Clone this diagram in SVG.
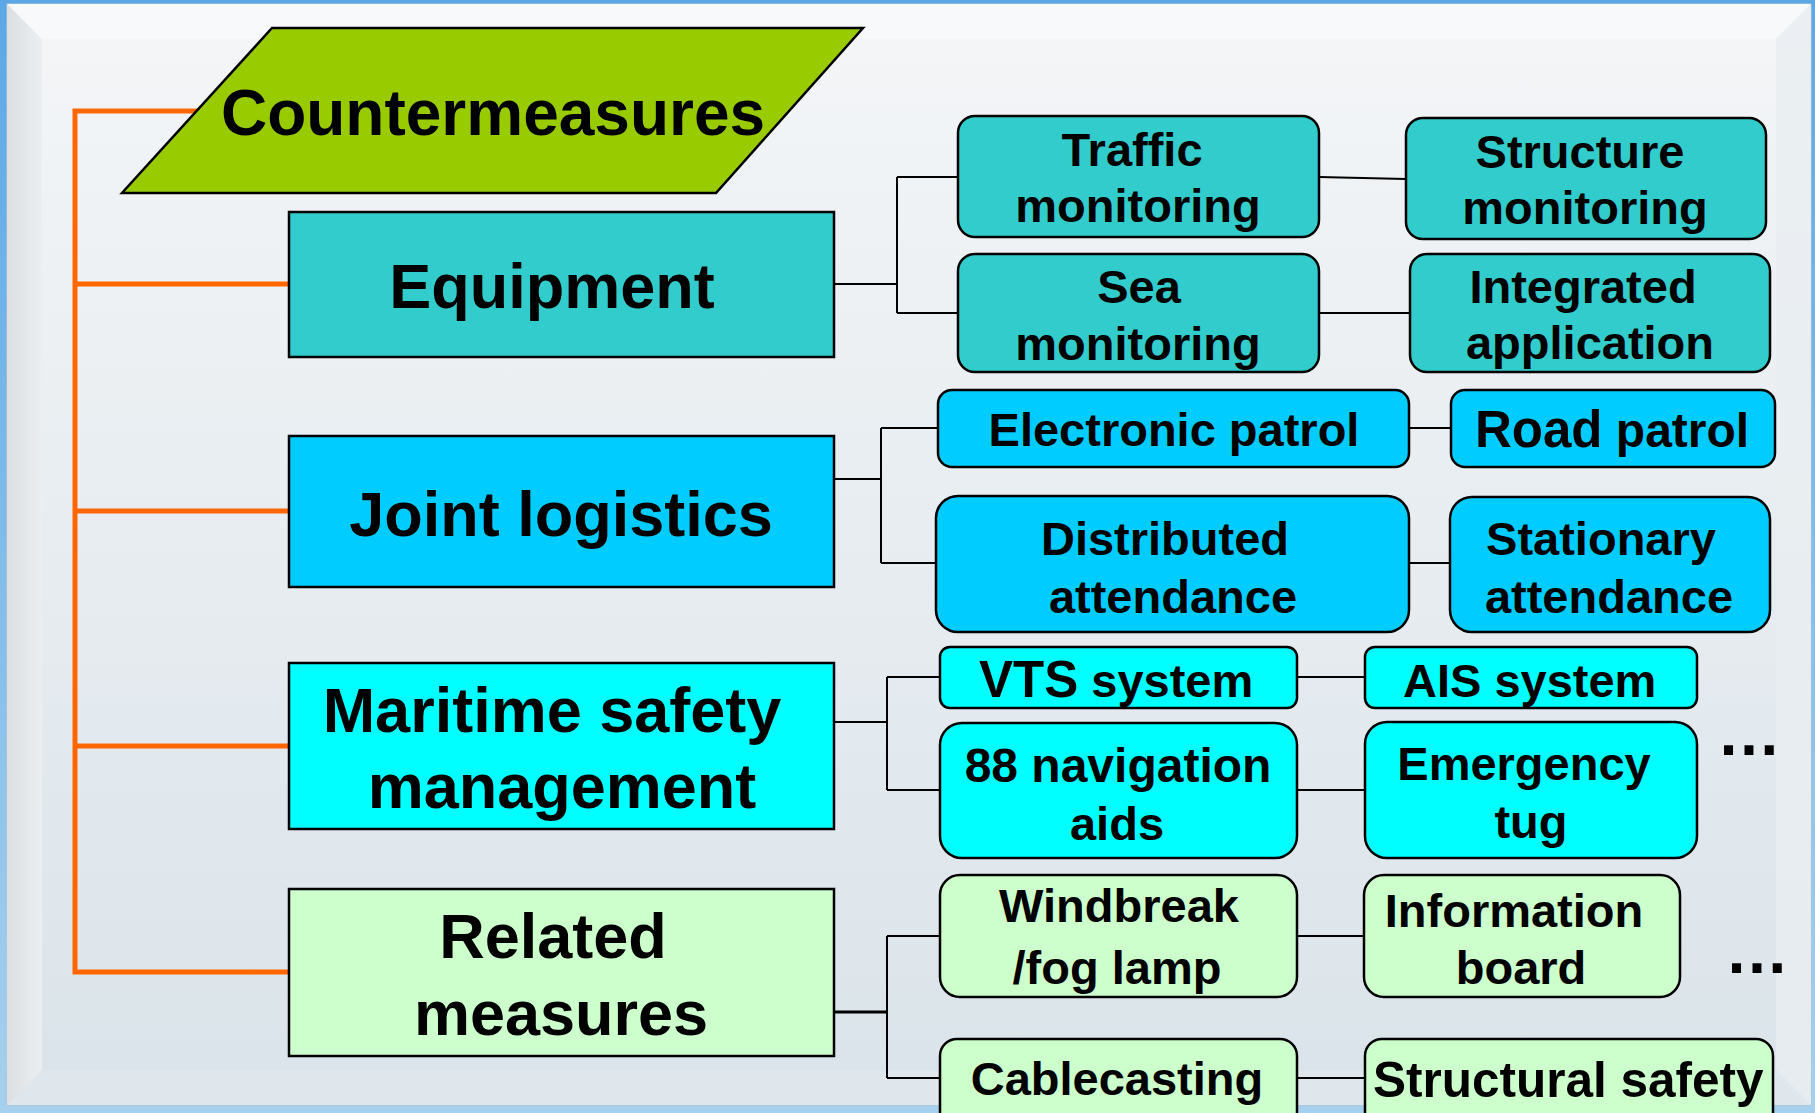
<svg xmlns="http://www.w3.org/2000/svg" width="1815" height="1113" viewBox="0 0 1815 1113">
<defs>
<linearGradient id="outer" x1="0" y1="0" x2="0" y2="1">
<stop offset="0" stop-color="#5ca8e6"/>
<stop offset="1" stop-color="#a6d0ee"/>
</linearGradient>
<linearGradient id="face" x1="0" y1="0" x2="0" y2="1">
<stop offset="0" stop-color="#f3f5f7"/>
<stop offset="1" stop-color="#dbe4ea"/>
</linearGradient>
<linearGradient id="leftbev" x1="0" y1="0" x2="1" y2="0">
<stop offset="0" stop-color="#dcdfe2"/>
<stop offset="1" stop-color="#eceff1"/>
</linearGradient>
<style>
.t{font-family:"Liberation Sans",Arial,sans-serif;font-weight:bold;fill:#000}
.big{font-size:63px;text-anchor:middle}
.sm{font-size:47px;text-anchor:middle}
.box{stroke:#000;stroke-width:2.5}
.rb{stroke:#000;stroke-width:2.5}
.ln{fill:none;stroke:#000;stroke-width:2}
.or{fill:none;stroke:#FF6600;stroke-width:5}
</style>
</defs>
<g id="background">
<rect x="0" y="0" width="1815" height="1113" fill="url(#outer)"/>
<rect x="7" y="4" width="1804" height="1101" fill="url(#face)" stroke="#b8c4cc" stroke-width="1"/>
<polygon points="7,4 1811,4 1776,39 42,39" fill="#f7f9fa"/>
<polygon points="7,4 42,39 42,1070 7,1105" fill="url(#leftbev)"/>
<polygon points="1811,4 1811,1105 1776,1070 1776,39" fill="#e8edf1" opacity="0.8"/>
<polygon points="7,1105 42,1070 1776,1070 1811,1105" fill="#e0e7ec"/>
<rect x="42" y="39" width="1734" height="1031" fill="url(#face)"/>
</g>
<g id="connectors">
<path class="or" d="M198,111 H75 V972 H289 M75,284 H289 M75,511 H289 M75,746 H289"/>
<path class="ln" d="M834,284 H897 M897,177 V313 M897,177 H958 M897,313 H958"/>
<path class="ln" d="M1319,177 L1406,179 M1319,313 H1410"/>
<path class="ln" d="M829,479 H881 M881,428 V563 M881,428 H938 M881,563 H936"/>
<path class="ln" d="M1409,428 H1451 M1409,563 H1450"/>
<path class="ln" d="M834,722 H887 M887,677 V790 M887,677 H940 M887,790 H940"/>
<path class="ln" d="M1297,677 H1365 M1297,790 H1365"/>
<path class="ln" d="M834,1012 H887" style="stroke-width:3"/>
<path class="ln" d="M887,936 V1078 M887,936 H940 M887,1078 H940"/>
<path class="ln" d="M1297,936 H1364 M1297,1078 H1365"/>
</g>
<g id="countermeasures">
<polygon class="box" points="272,28 863,28 716,193 122,193" fill="#99CC00"/>
<text class="t big" x="493" y="135" style="font-size:64px">Countermeasures</text>
</g>
<g id="equipment">
<rect class="box" x="289" y="212" width="545" height="145" fill="#33CCCC"/>
<text class="t big" x="552" y="308">Equipment</text>
</g>
<g id="joint-logistics">
<rect class="box" x="289" y="436" width="545" height="151" fill="#00CCFF"/>
<text class="t big" x="561" y="536">Joint logistics</text>
</g>
<g id="maritime-safety">
<rect class="box" x="289" y="663" width="545" height="166" fill="#00FFFF"/>
<text class="t big" x="552" y="732">Maritime safety</text>
<text class="t big" x="562" y="808">management</text>
</g>
<g id="related-measures">
<rect class="box" x="289" y="889" width="545" height="167" fill="#CCFFCC"/>
<text class="t big" x="553" y="958">Related</text>
<text class="t big" x="561" y="1035">measures</text>
</g>
<g id="traffic-monitoring">
<rect class="rb" x="958" y="116" width="361" height="121" rx="17" fill="#33CCCC"/>
<text class="t sm" x="1132" y="166">Traffic</text>
<text class="t sm" x="1138" y="222">monitoring</text>
</g>
<g id="structure-monitoring">
<rect class="rb" x="1406" y="118" width="360" height="121" rx="17" fill="#33CCCC"/>
<text class="t sm" x="1580" y="168">Structure</text>
<text class="t sm" x="1585" y="224">monitoring</text>
</g>
<g id="sea-monitoring">
<rect class="rb" x="958" y="254" width="361" height="118" rx="17" fill="#33CCCC"/>
<text class="t sm" x="1139" y="303">Sea</text>
<text class="t sm" x="1138" y="360">monitoring</text>
</g>
<g id="integrated-application">
<rect class="rb" x="1410" y="254" width="360" height="118" rx="17" fill="#33CCCC"/>
<text class="t sm" x="1583" y="303">Integrated</text>
<text class="t sm" x="1590" y="359">application</text>
</g>
<g id="electronic-patrol">
<rect class="rb" x="938" y="390" width="471" height="77" rx="14" fill="#00CCFF"/>
<text class="t sm" x="1174" y="446">Electronic patrol</text>
</g>
<g id="road-patrol">
<rect class="rb" x="1451" y="390" width="324" height="77" rx="14" fill="#00CCFF"/>
<text class="t" x="1475" y="447" style="font-size:51px">Road<tspan style="font-size:48px"> patrol</tspan></text>
</g>
<g id="distributed-attendance">
<rect class="rb" x="936" y="496" width="473" height="136" rx="22" fill="#00CCFF"/>
<text class="t sm" x="1165" y="555">Distributed</text>
<text class="t sm" x="1173" y="613">attendance</text>
</g>
<g id="stationary-attendance">
<rect class="rb" x="1450" y="497" width="320" height="135" rx="22" fill="#00CCFF"/>
<text class="t sm" x="1601" y="555">Stationary</text>
<text class="t sm" x="1609" y="613">attendance</text>
</g>
<g id="vts-system">
<rect class="rb" x="940" y="647" width="357" height="61" rx="10" fill="#00FFFF"/>
<text class="t" x="979" y="697" style="font-size:51px">VTS<tspan style="font-size:47px"> system</tspan></text>
</g>
<g id="ais-system">
<rect class="rb" x="1365" y="647" width="332" height="61" rx="10" fill="#00FFFF"/>
<text class="t" x="1403" y="697" style="font-size:47px">AIS system</text>
</g>
<g id="navigation-aids">
<rect class="rb" x="940" y="723" width="357" height="135" rx="22" fill="#00FFFF"/>
<text class="t sm" x="1118" y="782" style="font-size:48px">88 navigation</text>
<text class="t sm" x="1117" y="840">aids</text>
</g>
<g id="emergency-tug">
<rect class="rb" x="1365" y="722" width="332" height="136" rx="22" fill="#00FFFF"/>
<text class="t sm" x="1524" y="780">Emergency</text>
<text class="t sm" x="1531" y="838">tug</text>
</g>
<text class="t" x="1749" y="755" style="font-size:64px;text-anchor:middle">…</text>
<g id="windbreak-fog-lamp">
<rect class="rb" x="940" y="875" width="357" height="122" rx="20" fill="#CCFFCC"/>
<text class="t sm" x="1119" y="922">Windbreak</text>
<text class="t sm" x="1117" y="984">/fog lamp</text>
</g>
<g id="information-board">
<rect class="rb" x="1364" y="875" width="316" height="122" rx="20" fill="#CCFFCC"/>
<text class="t sm" x="1514" y="927">Information</text>
<text class="t sm" x="1521" y="984">board</text>
</g>
<text class="t" x="1757" y="973" style="font-size:64px;text-anchor:middle">…</text>
<g id="cablecasting">
<rect class="rb" x="940" y="1039" width="357" height="92" rx="17" fill="#CCFFCC"/>
<text class="t sm" x="1117" y="1095">Cablecasting</text>
</g>
<g id="structural-safety">
<rect class="rb" x="1365" y="1039" width="408" height="92" rx="17" fill="#CCFFCC"/>
<text class="t" x="1373" y="1097" style="font-size:49.5px">Structural safety</text>
</g>
</svg>
